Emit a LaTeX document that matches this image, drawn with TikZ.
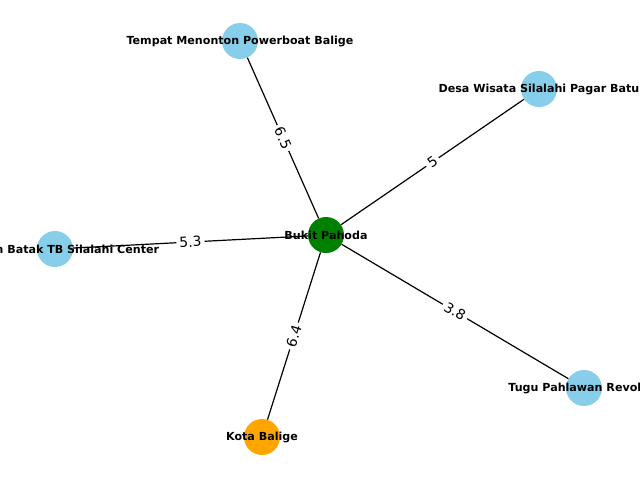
\documentclass[tikz,border=0pt]{standalone}
\usepackage{fontspec}
\setmainfont{DejaVu Sans}
\definecolor{skyblue}{HTML}{87CEEB}
\definecolor{mplgreen}{HTML}{008000}
\definecolor{mplorange}{HTML}{FFA500}
\tikzset{
  place/.style={circle, minimum size=36pt, inner sep=0pt, fill=skyblue},
  nlbl/.style={font=\bfseries\fontsize{11.1}{13}\selectfont, inner sep=0pt},
  elbl/.style={fill=white, font=\fontsize{13.9}{16}\selectfont, inner sep=3pt, rounded corners=2pt},
  edge/.style={draw=black, line width=1.2pt}
}
\begin{document}
\begin{tikzpicture}[x=1pt,y=-1pt]
\useasboundingbox (0,0) rectangle (640,480);
\clip (0,0) rectangle (640,480);
\fill[white] (0,0) rectangle (640,480);
\node[place, fill=mplgreen] (c) at (326,235) {};
\node[place] (a) at (240,41) {};
\node[place] (b) at (539,89) {};
\node[place] (d) at (584,388) {};
\node[place, fill=mplorange] (e) at (262,437) {};
\node[place] (f) at (55,249) {};
\draw[edge] (c) -- (a) node[midway, sloped, elbl] (la) {6.5};
\draw[edge] (c) -- (b) node[midway, sloped, elbl] (lb) {5};
\draw[edge] (c) -- (d) node[midway, sloped, elbl] (ld) {3.8};
\draw[edge] (c) -- (e) node[midway, sloped, elbl] (le) {6.4};
\draw[edge] (c) -- (f) node[midway, sloped, elbl] (lf) {5.3};
\node[nlbl] (tc) at (c) {Bukit Pahoda};
\node[nlbl] (ta) at (a) {Tempat Menonton Powerboat Balige};
\node[nlbl] (tb) at (b) {Desa Wisata Silalahi Pagar Batu};
\node[nlbl] (td) at (d) {Tugu Pahlawan Revolusi};
\node[nlbl] (te) at (e) {Kota Balige};
\node[nlbl] (tf) at (f) {Museum Batak TB Silalahi Center};
\end{tikzpicture}
\end{document}
